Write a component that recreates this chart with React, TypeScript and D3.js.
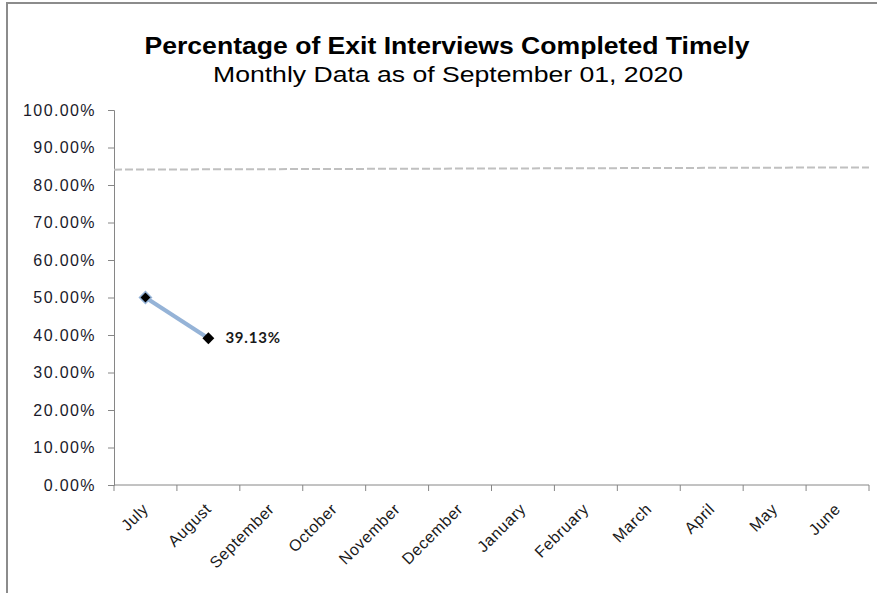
import * as React from 'react';
import * as d3 from 'd3';

const months = ['July', 'August', 'September', 'October', 'November', 'December',
  'January', 'February', 'March', 'April', 'May', 'June'];
const actual = [0.5, 0.3913];
const targetLine = [0.841, 0.847]; // start and end of the dashed target line
const yTicks = [0, 0.1, 0.2, 0.3, 0.4, 0.5, 0.6, 0.7, 0.8, 0.9, 1.0];

const W = 877;
const H = 593;
const margin = { top: 110, right: 8, bottom: 108, left: 114 };

export default function App() {
  const ref = React.useRef<SVGSVGElement>(null);

  React.useEffect(() => {
    const svg = d3.select(ref.current);
    svg.selectAll('*').remove();

    const x = d3.scaleBand<string>().domain(months)
      .range([margin.left, W - margin.right]);
    const y = d3.scaleLinear().domain([0, 1])
      .range([H - margin.bottom, margin.top]);

    // frame (top and left edges only visible)
    svg.append('line').attr('x1', 6).attr('x2', W).attr('y1', 3).attr('y2', 3)
      .attr('stroke', '#8c8c8c').attr('stroke-width', 2);
    svg.append('line').attr('x1', 7).attr('x2', 7).attr('y1', 3).attr('y2', H)
      .attr('stroke', '#8c8c8c').attr('stroke-width', 2);

    // titles
    svg.append('text')
      .attr('x', 447).attr('y', 54)
      .attr('text-anchor', 'middle')
      .attr('font-family', 'Liberation Sans, Arial, sans-serif')
      .attr('font-weight', 'bold')
      .attr('font-size', 23)
      .attr('textLength', 605).attr('lengthAdjust', 'spacingAndGlyphs')
      .attr('fill', '#000')
      .text('Percentage of Exit Interviews Completed Timely');
    svg.append('text')
      .attr('x', 448).attr('y', 82)
      .attr('text-anchor', 'middle')
      .attr('font-family', 'Liberation Sans, Arial, sans-serif')
      .attr('font-size', 22)
      .attr('textLength', 470).attr('lengthAdjust', 'spacingAndGlyphs')
      .attr('fill', '#000')
      .text('Monthly  Data as of September 01, 2020');

    // y axis
    const yAxis = svg.append('g')
      .attr('transform', `translate(${margin.left},0)`)
      .call(d3.axisLeft(y).tickValues(yTicks).tickSize(6).tickPadding(12)
        .tickFormat(d3.format('.2%')));
    yAxis.select('.domain').attr('stroke', '#868686');
    yAxis.selectAll('.tick line').attr('stroke', '#868686');
    yAxis.selectAll('.tick text')
      .attr('font-family', 'Liberation Sans, Arial, sans-serif')
      .attr('font-size', 16)
      .attr('letter-spacing', 1.4)
      .attr('fill', '#1a1a2a');

    // x axis with ticks on band boundaries
    const xAxisG = svg.append('g')
      .attr('transform', `translate(0,${H - margin.bottom})`);
    xAxisG.append('line')
      .attr('x1', margin.left).attr('x2', W - margin.right)
      .attr('stroke', '#868686');
    const bounds = months.map(m => x(m)!).concat([x(months[months.length - 1])! + x.bandwidth()]);
    xAxisG.selectAll('line.tk').data(bounds).join('line')
      .attr('class', 'tk')
      .attr('x1', d => d).attr('x2', d => d)
      .attr('y1', 0).attr('y2', 6)
      .attr('stroke', '#868686');
    xAxisG.selectAll('text').data(months).join('text')
      .attr('text-anchor', 'end')
      .attr('font-family', 'Liberation Sans, Arial, sans-serif')
      .attr('font-size', 16)
      .attr('letter-spacing', 0.6)
      .attr('fill', '#1a1a1a')
      .attr('transform', d => `translate(${x(d)! + x.bandwidth() / 2 + 4},${25}) rotate(-45)`)
      .text(d => d);

    // target dashed line
    svg.append('line')
      .attr('x1', margin.left).attr('x2', W - margin.right)
      .attr('y1', y(targetLine[0])).attr('y2', y(targetLine[1]))
      .attr('stroke', '#c0c0c0').attr('stroke-width', 2)
      .attr('stroke-dasharray', '8,3');

    // actual series
    const line = d3.line<number>()
      .x((_, i) => x(months[i])! + x.bandwidth() / 2)
      .y(d => y(d));
    svg.append('path').datum(actual)
      .attr('d', line)
      .attr('fill', 'none')
      .attr('stroke', '#95b3d7').attr('stroke-width', 4);

    const diamond = d3.symbol().type(d3.symbolDiamond2).size(90);
    svg.selectAll('path.mk').data(actual).join('path')
      .attr('class', 'mk')
      .attr('d', diamond)
      .attr('transform', (d, i) => `translate(${x(months[i])! + x.bandwidth() / 2},${y(d)})`)
      .attr('fill', '#000')
      .attr('stroke', (_, i) => (i === 0 ? '#95b3d7' : 'none'))
      .attr('stroke-width', 1.5);

    // label on last point
    const last = actual.length - 1;
    svg.append('text')
      .attr('x', x(months[last])! + x.bandwidth() / 2 + 17)
      .attr('y', y(actual[last]) + 5)
      .attr('font-family', 'Lato, Open Sans, sans-serif')
      .attr('font-weight', 'bold')
      .attr('font-size', 15)
      .attr('letter-spacing', 0.8)
      .attr('fill', '#1a1a1a')
      .text(d3.format('.2%')(actual[last]));
  }, []);

  return (
    <svg ref={ref} width={W} height={H}
      style={{ position: 'absolute', left: 0, top: 0, background: '#fff' }} />
  );
}
